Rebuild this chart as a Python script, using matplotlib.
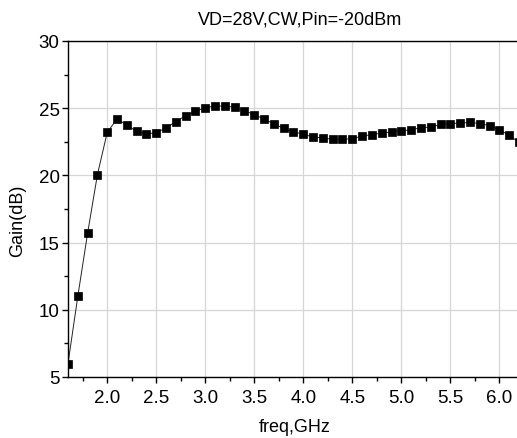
import numpy as np
import matplotlib.pyplot as plt
from matplotlib.ticker import MultipleLocator

plt.rcParams['font.family'] = ['Liberation Sans', 'DejaVu Sans']

# frequency sweep, GHz
freq = np.round(np.arange(1.6, 6.25, 0.1), 1)
# gain, dB
gain = [6.0, 11.0, 15.7, 20.05, 23.2, 24.2, 23.75, 23.28, 23.08, 23.18,
        23.53, 24.0, 24.44, 24.77, 25.04, 25.16, 25.16, 25.07, 24.82, 24.52,
        24.2, 23.83, 23.5, 23.24, 23.06, 22.86, 22.79, 22.68, 22.68, 22.74,
        22.92, 23.04, 23.14, 23.24, 23.34, 23.37, 23.56, 23.59, 23.79, 23.86,
        23.89, 23.94, 23.86, 23.69, 23.39, 22.99, 22.45]

xticks = [2.0, 2.5, 3.0, 3.5, 4.0, 4.5, 5.0, 5.5, 6.0]
yticks = [5, 10, 15, 20, 25, 30]

fig = plt.figure(figsize=(5.17, 4.39), dpi=100)
ax = fig.add_axes([68/517, 1-378/439, 1-68/517, (378-42)/439])

ax.plot(freq, gain, color='#222222', lw=0.7, marker='s', ms=5.8,
        mfc='black', mec='black', mew=0.5)

ax.set_xlim(1.6, 6.18)
ax.set_ylim(5, 30)
ax.set_xticks(xticks)
ax.set_xticklabels(['%.1f' % t for t in xticks])
ax.set_yticks(yticks)
ax.xaxis.set_minor_locator(MultipleLocator(0.25))
ax.yaxis.set_minor_locator(MultipleLocator(2.5))
ax.grid(True, which='major', color='#d6d6d6', lw=0.9)
ax.set_axisbelow(True)

ax.tick_params(which='major', direction='out', length=4.5, width=1, labelsize=13.5)
ax.tick_params(axis='x', which='major', pad=4)
ax.tick_params(axis='y', which='major', pad=1.5)
ax.tick_params(which='minor', direction='out', length=3, width=1)
ax.spines['right'].set_visible(False)
for s in ['left', 'bottom', 'top']:
    ax.spines[s].set_linewidth(1.0)

ax.set_xlabel('freq,GHz', fontsize=13, va='center')
ax.xaxis.set_label_coords((295-68)/449, (378-428)/336)
ax.set_ylabel('Gain(dB)', fontsize=13, va='center')
ax.yaxis.set_label_coords((18-68)/449, (378-221)/336)
fig.text(300/517, 1-20/439, 'VD=28V,CW,Pin=-20dBm', ha='center', va='center', fontsize=13)

fig.savefig('out.png', dpi=100)
